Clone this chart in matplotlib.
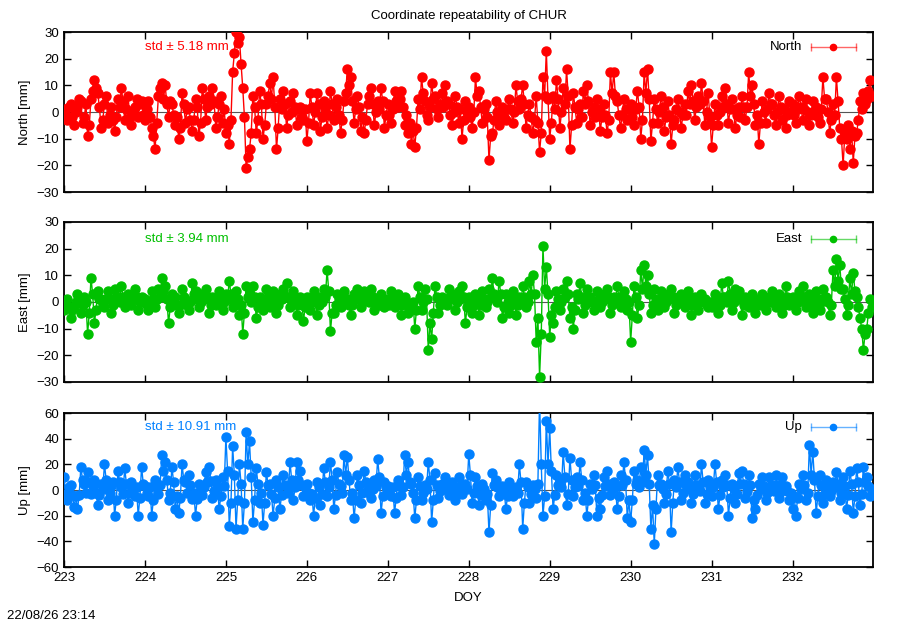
import numpy as np
import matplotlib
matplotlib.use('Agg')
import matplotlib.pyplot as plt
from matplotlib.ticker import MultipleLocator

plt.rcParams['font.family'] = ['Liberation Sans', 'DejaVu Sans']
plt.rcParams['font.size'] = 9.5

# half-hourly samples, DOY 223..232 (48 per day, one row per day), values in mm
north = [
    1, -1, -3, 2, 3, -2, -5, 0, 2, 5, 4, -4, -2, 3, -9, -5, 5, 8, 12, 9, 7, 2, -6, -3, 3, 6, -4, -1, 2, -3, -7, -2, 5, 2, 9, 4, -3, 1, 6, -2, -5, 0, 2, 5, -2, 3, 4, -1,
    -3, 1, 4, -2, -6, -9, -14, -4, 6, 9, 11, 5, 10, 3, -2, 4, 3, -1, -5, -2, -10, -6, 7, 3, -4, 1, 2, -3, -7, -3, 5, 2, -9, -4, 9, 5, -3, 2, 6, 3, 9, 4, -6, -2, 3, 6, -4, 1,
    -8, -5, -12, -3, 15, 22, 30, 26, 28, 18, 9, -2, -21, -17, -14, -8, 6, 2, -8, -3, 8, 3, -10, -5, 3, 6, 11, 5, 13, 2, -14, -6, 5, 1, 8, 3, -6, -1, 4, 0, 7, 2, -5, 1, 2, -2, -3, 1,
    -11, -4, 7, 2, -5, 0, 7, 3, -7, -2, 4, 1, -6, -1, 8, 3, -3, 2, 5, -1, -8, -3, 4, 7, 16, 10, 13, 4, -4, 1, 6, 2, -7, -2, -8, -3, 3, 6, 9, 3, -5, 0, 4, 1, 9, 4, -6, -1,
    3, -1, -4, 1, 8, 4, 2, 5, 8, 2, -5, -1, -8, -4, -12, -7, -13, -6, 5, 1, 13, 7, 4, -1, -3, 2, 11, 5, 6, 1, -2, 3, 7, 2, 10, 4, 3, -1, -5, 0, 6, 2, -4, 1, -10, -3, 4, 0,
    2, -2, -6, 0, 13, 6, 8, 2, -4, 1, 3, -2, -18, -9, -8, -3, 4, 0, -5, -1, 2, -2, -3, 1, 5, 1, -4, 0, 10, 4, 1, 5, 10, 3, -6, -1, 3, -2, -8, -3, 6, -4, -15, -8, 13, 6, 23, 5,
    -10, -4, 6, 1, 12, 5, -6, 0, 9, 3, 16, 6, -14, -5, 7, 2, -4, 1, 3, -2, 8, 3, 10, 4, -5, 0, 2, -2, 5, 1, -7, -2, 3, -1, -8, -3, 15, 7, 15, 6, 4, -1, -6, -1, 5, 1, -3, 1,
    3, -2, -5, 1, 8, 2, -10, -3, 15, 7, 16, 5, -11, -4, 5, 1, -4, 0, 6, 2, -7, -2, 4, -1, -12, -5, -3, 1, 5, 0, -6, -1, 3, -1, 8, 3, 10, 4, -3, 2, 6, 3, 11, 4, -5, 0, 7, -2,
    -13, -5, 3, -1, -5, 0, 6, 2, 9, 3, -4, 1, 5, 1, -6, -1, 2, -2, 6, 2, -3, 2, 15, 6, 10, 3, -5, -1, -12, -4, 4, 0, -4, 1, 7, 3, 3, -1, -5, 0, 6, 2, -3, 1, -6, -1, 4, 0,
    3, -1, -4, 1, 6, 2, -3, 1, 5, 0, -5, -1, 4, 0, 2, -2, -4, 1, 13, 5, 5, 0, -8, -3, 3, -1, 13, 4, -6, -10, -20, -8, -10, -5, -14, -7, -19, -9, -8, -3, 4, 1, 7, 3, 5, 8, 12, 6,
]
east = [
    -3, -1, 1, -2, -6, -3, -2, 0, 3, 1, -4, -1, 2, 0, -12, -4, 9, 3, -8, -3, 4, 1, 1, -1, -2, 1, 4, 1, -4, -1, 5, 2, 2, 0, 6, 2, -2, 0, 3, 1, -1, 1, 5, 2, -3, 0, 2, 0,
    1, -1, -3, 0, 4, 1, -2, 1, 5, 2, 9, 4, 6, 1, -8, -2, 3, 0, 2, -1, -4, -1, 5, 2, 1, -1, -3, 0, 7, 3, 4, 1, -2, 0, 3, 1, 5, 2, -4, -1, 2, 0, -1, 1, 4, 1, -3, 0,
    3, 1, 8, 3, -2, 0, 4, 1, -5, -1, -12, -4, 6, 2, 3, 0, 6, 2, -6, -2, 2, 0, -3, 0, 5, 2, -2, 0, 4, 1, -4, -1, 3, 1, 5, 2, 7, 2, -2, 0, 4, 1, -5, -1, 2, 0, -7, -2,
    2, 0, -3, 0, 4, 1, -5, -1, 2, 0, 5, 2, 12, 4, -11, -4, -4, -1, 3, 1, -2, 0, 4, 1, 1, -1, -5, -1, 3, 1, 5, 2, -2, 0, 4, 1, 2, 0, 5, 2, -3, 0, 1, -1, 3, 1, -2, 0,
    1, -1, 4, 1, -2, 0, 3, 1, -5, -1, 2, 0, -4, -1, -2, 0, -10, -3, 6, 2, -3, 0, 5, 1, -18, -8, -14, -4, 6, 2, -4, -1, 2, 0, 1, -1, 5, 2, 3, 1, -3, 0, 4, 1, 6, 2, -8, -2,
    2, 0, -4, -1, 3, 1, -5, -1, 4, 1, -2, 0, 5, 2, 9, 3, 2, 0, 8, 3, -6, -2, 3, 0, -4, -1, 4, 1, -5, -1, 2, 0, 6, 2, -2, 0, 8, 3, 10, 3, -15, -6, -28, -12, 21, 5, 13, 3,
    -13, -5, -8, -2, 4, 1, -3, 0, 5, 2, 8, 3, -6, -2, -10, -3, 3, 1, 7, 2, -4, -1, 5, 2, 2, 0, -3, 0, 4, 1, -2, 0, 3, 1, 5, 2, -4, -1, 2, 0, 6, 2, -2, 0, 4, 1, -3, 0,
    -15, -5, 6, 2, -6, -1, 12, 5, 14, 6, 10, 3, -4, -1, 5, 1, -3, 0, 4, 1, -2, 0, 3, 1, 5, 2, -4, -1, 2, 0, 3, 1, -2, 0, 4, 1, -5, -1, 2, 0, -3, 0, 3, 1, 1, -1, -2, 0,
    -2, 0, 3, 1, -4, -1, 7, 2, 2, 0, 8, 3, -3, 0, 5, 2, 4, 1, -5, -1, 2, 0, -2, 0, 3, 1, -4, -1, 1, -1, 3, 1, -3, 0, 2, 0, 4, 1, -2, 0, 3, 1, -4, -1, 6, 2, -1, 0,
    2, 0, -3, 0, 4, 1, 6, 2, -2, 0, 3, 1, -4, -1, 4, 1, -3, 0, 5, 2, 2, 0, -5, -1, 12, 6, 16, 8, 14, 5, 5, 1, -5, -1, 9, 3, 11, 4, 2, -2, -6, -10, -18, -12, -10, -4, 1, -2,
]
up = [
    10, -3, -8, 2, 4, -4, -13, -5, -15, -4, 18, 8, 5, -2, 14, 6, -3, 3, 8, -2, -12, -4, 5, 1, 20, 8, -8, -2, 3, 6, -20, -8, 15, 6, 2, -3, 17, 5, -10, -2, 6, 1, -5, 2, -20, -6, 18, 5,
    3, -2, -5, 2, -20, -8, 8, 2, -3, 4, 27, 15, 22, 8, -8, -2, 18, 6, -15, -5, -18, -6, 20, 8, 6, -2, 12, 4, -7, -2, -20, -7, 5, 1, -4, 2, 14, 6, 18, 7, -6, -1, 8, 2, -15, -5, 10, 3,
    41, 15, -28, -10, 34, 12, -30, -8, 20, 5, -30, -10, 45, 20, 38, 10, -25, -8, 17, 5, -10, -2, -27, -10, 14, 4, 5, -3, -20, -6, 8, 2, -15, -4, 12, 4, 3, -2, 22, 8, -8, 2, 22, 8, 15, 4, -5, 2,
    5, -2, -8, -3, -20, -6, 6, 2, -12, -3, 17, 6, -5, 2, 22, 8, -15, -4, 14, 5, 3, -2, 27, 12, 26, 8, -8, -2, -22, -8, 12, 4, -10, -2, 15, 6, 3, -2, -6, 1, 8, 3, 24, 10, -18, -5, 6, 2,
    3, -2, -5, 2, -18, -6, 8, 3, -4, 2, 27, 12, 22, 6, 5, -2, -22, -8, 10, 3, -8, -2, 4, 1, 22, 8, -25, -8, 13, 4, -6, -1, 5, 1, 10, 3, -4, 1, 6, 2, -8, -2, 10, 3, -3, 1, 5, 1,
    28, 12, -10, -2, 10, 3, -12, -4, 5, 1, -8, -3, -33, -12, 13, 4, 8, 2, -5, -1, 3, 0, -15, -5, 6, 2, -5, -1, 2, -2, 20, 6, -30, -10, 6, 2, -10, -3, 4, 1, -6, 5, 70, 20, -20, -5, 54, 20,
    48, 15, -15, -4, 12, 4, 8, 2, 30, 10, -12, -3, 25, 8, -5, 2, 10, 3, 22, 8, -8, -2, -20, -8, 5, 1, 12, 4, -20, -6, -15, -4, 10, 3, 15, 5, -4, 1, 6, 2, -15, -5, 12, 4, 22, 8, -22, -8,
    -25, -8, 15, 5, 8, 2, 18, 6, 31, 12, 27, 5, -30, -12, -42, -15, 12, 4, 5, 1, -10, -3, 15, 5, -33, -10, 8, 2, 18, 6, -8, -2, 12, 4, 6, 1, -10, -3, 12, 4, 4, -1, 20, 6, -10, -3, 8, 2,
    -5, 2, 20, 6, -15, -4, 8, 2, 12, 4, -20, -6, 5, 1, -10, -3, 13, 5, 15, 5, -6, -1, 12, 4, -22, -8, -15, -4, 5, 1, 10, 3, -8, -2, 10, 3, 4, -1, 12, 4, -6, -1, 10, 3, 3, -1, -8, -2,
    -15, -5, -20, -6, 5, 1, 12, 4, -8, -2, 35, 12, 30, 8, -18, -5, 12, 4, -10, -3, 8, 2, -5, -1, 6, 2, 14, 5, -8, -2, 10, 3, -15, -4, 15, 5, -18, -5, 17, 6, -12, -3, 18, 6, 10, 3, -5, 1,
]
sigma = {'North': 1.0, 'East': 1.0, 'Up': 2.0}
std_text = {'North': 'std \u00b1 5.18 mm', 'East': 'std \u00b1 3.94 mm', 'Up': 'std \u00b1 10.91 mm'}
doy_start, doy_end, per_day = 223, 232.995, 48
doy = doy_start + np.arange(len(north)) / per_day
xticks = list(range(223, 233))

colors = {'North': '#ff0000', 'East': '#00c000', 'Up': '#0080ff'}


def panel(ax, name, values, ylim, ystep, key_y):
    c = colors[name]
    ax.axhline(0, color='#555555', lw=0.8, zorder=1)
    ax.errorbar(doy, values, yerr=sigma[name], color=c, ecolor=c, elinewidth=0.8,
                lw=1.0, marker='o', ms=6.5, capsize=1.5, zorder=3, clip_on=True)
    ax.set_xlim(doy_start, doy_end)
    ax.set_ylim(*ylim)
    ax.yaxis.set_major_locator(MultipleLocator(ystep))
    ax.set_xticks(xticks)
    ax.tick_params(direction='in', top=True, right=True, length=5, width=1, labelsize=9.5)
    for s in ax.spines.values():
        s.set_linewidth(1.3)
    ax.set_ylabel('%s [mm]' % name, labelpad=4)
    ax.text(0.1, key_y, std_text[name], transform=ax.transAxes, color=c,
            ha='left', va='center', fontsize=9.5, zorder=2)
    # gnuplot-style key
    ax.text(0.912, key_y, name, transform=ax.transAxes, ha='right', va='center', fontsize=9.5)
    ax.plot([0.923, 0.979], [key_y, key_y], transform=ax.transAxes, color=c, lw=1,
            alpha=0.6, marker='|', ms=6, clip_on=False)
    ax.plot([0.951], [key_y], transform=ax.transAxes, color=c, marker='o', ms=4.5, clip_on=False)


fig = plt.figure(figsize=(9, 6.3), dpi=100)
ax1 = fig.add_axes([0.0711, 0.6952, 0.899, 0.254])
ax2 = fig.add_axes([0.0711, 0.3937, 0.899, 0.254])
ax3 = fig.add_axes([0.0711, 0.1000, 0.899, 0.2444])

panel(ax1, 'North', north, (-30, 30), 10, 0.906)
panel(ax2, 'East', east, (-30, 30), 10, 0.894)
panel(ax3, 'Up', up, (-60, 60), 20, 0.909)
ax1.tick_params(labelbottom=False)
ax2.tick_params(labelbottom=False)
ax3.set_xlabel('DOY', labelpad=6)

fig.text(0.5205, 0.984, 'Coordinate repeatability of CHUR', ha='center', va='top', fontsize=9.5)
fig.text(0.008, 0.012, '22/08/26 23:14', ha='left', va='bottom', fontsize=9.5)

fig.savefig('out.png', dpi=100)
